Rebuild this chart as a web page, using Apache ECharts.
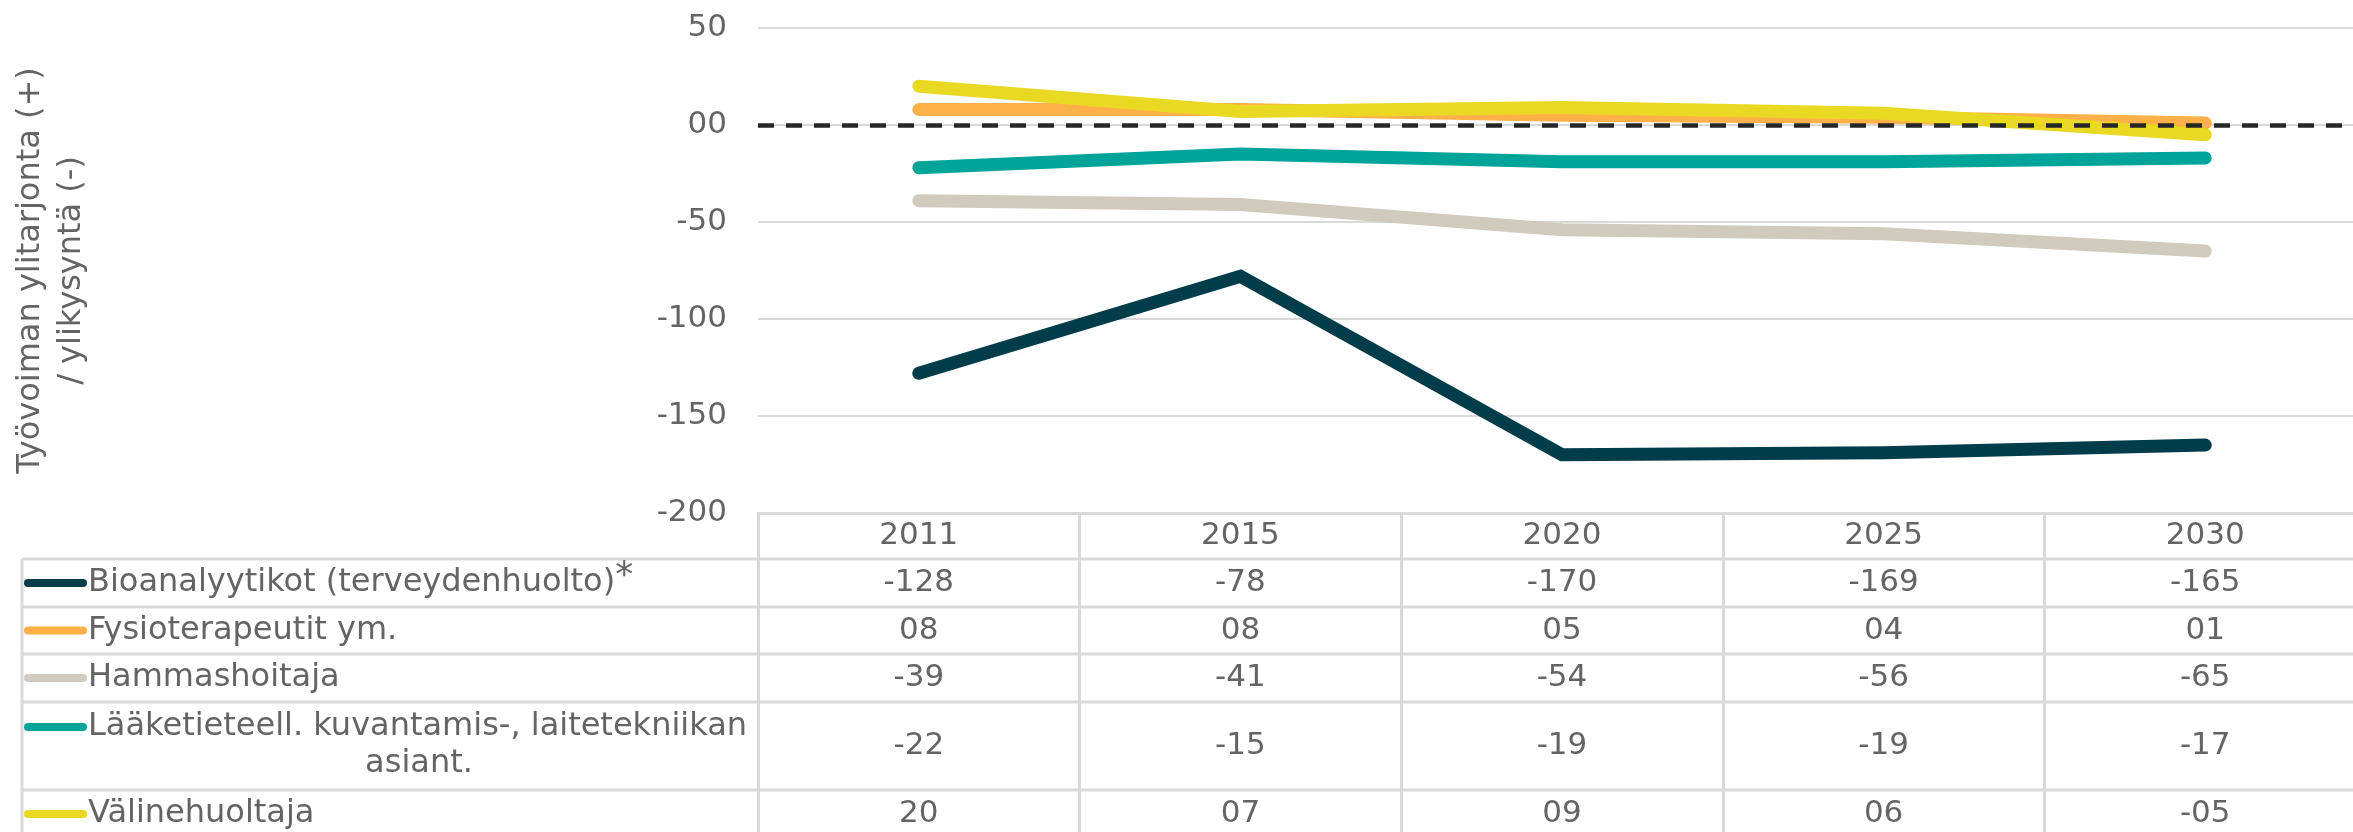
<!DOCTYPE html>
<html>
<head>
<meta charset="utf-8">
<script src="https://cdn.jsdelivr.net/npm/echarts@6/dist/echarts.min.js"></script>
<style>
  html, body { margin: 0; padding: 0; background: #fff; }
  #chart { width: 2353px; height: 832px; }
</style>
</head>
<body>
<div id="chart"></div>
<script>
// tiedot: työvoiman ylitarjonta / ylikysyntä
var years = ['2011', '2015', '2020', '2025', '2030'];
var names = [
  'Bioanalyytikot (terveydenhuolto)',
  'Fysioterapeutit ym.',
  'Hammashoitaja',
  'Lääketieteell. kuvantamis-, laitetekniikan asiant.',
  'Välinehuoltaja'
];
// näyttöteksti taulukossa (rivitys kuten alkuperäisessä)
var tableLabels = [
  ['Bioanalyytikot (terveydenhuolto)'],
  ['Fysioterapeutit ym.'],
  ['Hammashoitaja'],
  ['Lääketieteell. kuvantamis-, laitetekniikan', 'asiant.'],
  ['Välinehuoltaja']
];
var bioanalyytikot = [-128, -78, -170, -169, -165];
var fysioterapeutit = [8, 8, 5, 4, 1];
var hammashoitaja = [-39, -41, -54, -56, -65];
var laaketieteell = [-22, -15, -19, -19, -17];
var valinehuoltaja = [20, 7, 9, 6, -5];
var yTicks = [-200, -150, -100, -50, 0, 50];

var seriesData = [bioanalyytikot, fysioterapeutit, hammashoitaja, laaketieteell, valinehuoltaja];
var colors = ['#013C4A', '#FFB049', '#D1CBBD', '#00A499', '#E9D923'];
var textColor = '#646464';
var ruleColor = '#d9d9d9';
var font = 'DejaVu Sans';
var fs = 31;
var legendFs = 32;

// taulukon rivien rajat (y)
var rowTops = [559, 607, 654, 702, 790, 838];

function fmt(v) {
  var s = String(Math.abs(v));
  if (s.length < 2) s = '0' + s;
  return (v < 0 ? '-' : '') + s;
}

var chart = echarts.init(document.getElementById('chart'), null, { renderer: 'canvas' });

var series = names.map(function (n, i) {
  var s = {
    name: n,
    type: 'line',
    data: seriesData[i],
    symbol: 'none',
    lineStyle: { color: colors[i], width: 13, cap: 'round', join: 'miter' },
    itemStyle: { color: colors[i] },
    z: 3
  };
  if (i === 0) {
    s.markLine = {
      silent: true,
      symbol: 'none',
      label: { show: false },
      lineStyle: { color: '#262626', width: 4.5, type: [16, 12] },
      data: [{ yAxis: 0 }]
    };
  }
  return s;
});

chart.setOption({
  animation: false,
  textStyle: { fontFamily: font },
  // kaavioalue jatkuu hieman kuvan oikean reunan yli kuten alkuperäisessä
  grid: { left: 758, top: 28, width: 1608, height: 485, outerBoundsMode: 'none', containLabel: false },
  xAxis: {
    type: 'category',
    data: years,
    boundaryGap: true,
    axisLine: { onZero: false, lineStyle: { color: ruleColor, width: 3 } },
    axisTick: { show: true, length: 330, lineStyle: { color: ruleColor, width: 3 } },
    axisLabel: { color: textColor, fontSize: fs, fontFamily: font, margin: 23, verticalAlign: 'middle' },
    splitLine: { show: false }
  },
  yAxis: {
    type: 'value',
    min: yTicks[0],
    max: yTicks[yTicks.length - 1],
    interval: 50,
    name: 'Työvoiman ylitarjonta (+)\n/ ylikysyntä (-)',
    nameLocation: 'middle',
    nameRotate: 90,
    nameGap: 666,
    nameTextStyle: { color: textColor, fontSize: 32, fontFamily: font, lineHeight: 41, align: 'center' },
    axisLine: { show: false },
    axisTick: { show: false },
    axisLabel: { color: textColor, fontSize: fs, fontFamily: font, margin: 31, formatter: fmt },
    splitLine: { lineStyle: { color: ruleColor, width: 2 } }
  },
  series: series
});

// datataulukko kaavion alle
var graphics = [];
graphics.push({
  type: 'line', silent: true,
  shape: { x1: 22, y1: rowTops[0], x2: 22, y2: 832 },
  style: { stroke: ruleColor, lineWidth: 3 }
});
rowTops.forEach(function (y) {
  graphics.push({
    type: 'line', silent: true,
    shape: { x1: 22, y1: y, x2: 2353, y2: y },
    style: { stroke: ruleColor, lineWidth: 3 }
  });
});

function txt(x, y, text, align, size) {
  return {
    type: 'text', silent: true, z: 10,
    style: {
      x: x, y: y, text: text, fill: textColor,
      font: (size || fs) + 'px "' + font + '"', align: align, verticalAlign: 'middle'
    }
  };
}

names.forEach(function (n, i) {
  var yc = (rowTops[i] + rowTops[i + 1]) / 2;
  var lines = tableLabels[i];
  var swY = lines.length > 1 ? yc - 19 : yc;
  graphics.push({
    type: 'line', silent: true, z: 10,
    shape: { x1: 28, y1: swY, x2: 83, y2: swY },
    style: { stroke: colors[i], lineWidth: 8, lineCap: 'round' }
  });
  if (lines.length > 1) {
    graphics.push(txt(88, yc - 19, lines[0], 'left', legendFs));
    graphics.push(txt(419, yc + 18, lines[1], 'center', legendFs));
  } else if (i === 0) {
    graphics.push({
      type: 'text', silent: true, z: 10,
      style: {
        x: 88, y: yc, fill: textColor, align: 'left', verticalAlign: 'middle',
        text: '{a|' + lines[0] + '}{s|*}',
        rich: {
          a: { fontSize: legendFs, fontFamily: font, color: textColor },
          s: { fontSize: 36, fontFamily: font, color: colors[0], padding: [0, 0, 12, 0] }
        }
      }
    });
  } else {
    graphics.push(txt(88, yc, lines[0], 'left', legendFs));
  }
  seriesData[i].forEach(function (v, j) {
    var x = chart.convertToPixel({ xAxisIndex: 0 }, j);
    graphics.push(txt(x, yc, fmt(v), 'center'));
  });
});

chart.setOption({ graphic: { elements: graphics } });
window.addEventListener('resize', function () { chart.resize(); });
</script>
</body>
</html>
